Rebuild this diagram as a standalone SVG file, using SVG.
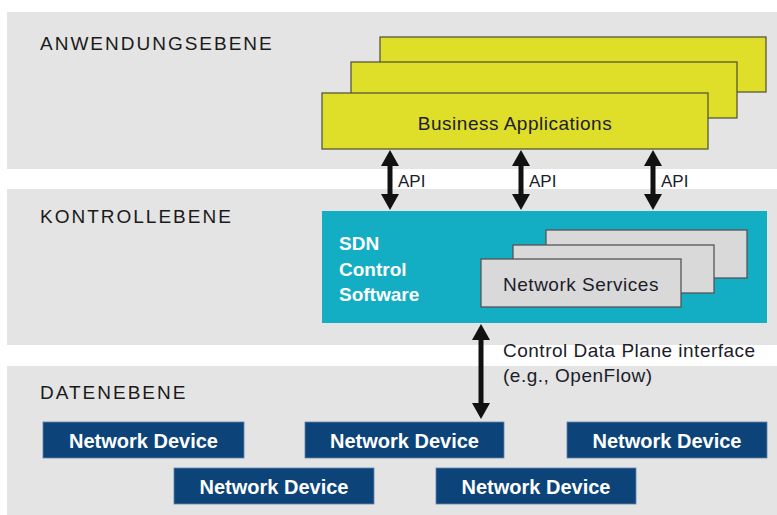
<svg xmlns="http://www.w3.org/2000/svg" width="777" height="515" viewBox="0 0 777 515">
<style>
.band{fill:#e4e4e4}
.title{font-family:"Liberation Sans",Arial,sans-serif;font-size:19px;letter-spacing:2px;fill:#1a1a1a}
.app{fill:#dfdf29;stroke:#4d4d33;stroke-width:1.2}
.svc{fill:#d9d9d9;stroke:#555;stroke-width:1.3}
.dev{fill:#0c4479;stroke:#5f84aa;stroke-width:0.8}
.lbl{font-family:"Liberation Sans",Arial,sans-serif;font-size:19px;letter-spacing:0.5px;fill:#1c1c2a}
.devt{font-family:"Liberation Sans",Arial,sans-serif;font-size:20px;font-weight:bold;fill:#fff;text-anchor:middle}
.sdn{font-family:"Liberation Sans",Arial,sans-serif;font-size:19px;font-weight:bold;fill:#fff}
.api{font-family:"Liberation Sans",Arial,sans-serif;font-size:17px;fill:#1c1c2a}
.conn{stroke:#111;stroke-width:5;fill:none;marker-start:url(#ah);marker-end:url(#ah)}
</style>
<defs>
<marker id="ah" viewBox="0 0 16 18" refX="1" refY="9" markerWidth="16" markerHeight="18" markerUnits="userSpaceOnUse" orient="auto-start-reverse">
<path d="M0,0 L16,9 L0,18 z" fill="#111"/>
</marker>
</defs>
<rect width="777" height="515" fill="#fff"/>
<g id="bands">
<rect class="band" x="7" y="12" width="770" height="157"/>
<rect class="band" x="7" y="189" width="770" height="156"/>
<rect class="band" x="7" y="366" width="770" height="149"/>
<text class="title" x="40" y="50">ANWENDUNGSEBENE</text>
<text class="title" x="40" y="223">KONTROLLEBENE</text>
<text class="title" x="40" y="399">DATENEBENE</text>
</g>
<g id="business-applications">
<rect class="app" x="380" y="37" width="386" height="55"/>
<rect class="app" x="351" y="62" width="386" height="56"/>
<rect class="app" x="322" y="93" width="386" height="56"/>
<text class="lbl" x="515" y="130" text-anchor="middle">Business Applications</text>
</g>
<g id="sdn-control-software">
<rect x="322" y="211" width="445" height="112" fill="#13adc4"/>
<text class="sdn" x="339" y="250">SDN</text>
<text class="sdn" x="339" y="276">Control</text>
<text class="sdn" x="339" y="301">Software</text>
</g>
<g id="network-services">
<rect class="svc" x="546" y="230" width="201" height="48"/>
<rect class="svc" x="513" y="245" width="201" height="48"/>
<rect class="svc" x="481" y="259" width="200" height="48"/>
<text class="lbl" x="581" y="291" text-anchor="middle">Network Services</text>
</g>
<g id="device-1"><rect class="dev" x="43" y="422" width="201" height="36"/><text class="devt" x="143.5" y="448">Network Device</text></g>
<g id="device-2"><rect class="dev" x="305" y="422" width="199" height="36"/><text class="devt" x="404.5" y="448">Network Device</text></g>
<g id="device-3"><rect class="dev" x="567" y="422" width="200" height="36"/><text class="devt" x="667" y="448">Network Device</text></g>
<g id="device-4"><rect class="dev" x="174" y="468" width="200" height="36"/><text class="devt" x="274" y="494">Network Device</text></g>
<g id="device-5"><rect class="dev" x="436" y="468" width="200" height="36"/><text class="devt" x="536" y="494">Network Device</text></g>
<g id="connectors">
<line class="conn" x1="390" y1="165" x2="390" y2="195"/>
<line class="conn" x1="521" y1="165" x2="521" y2="195"/>
<line class="conn" x1="653" y1="165" x2="653" y2="195"/>
<line class="conn" x1="481" y1="339" x2="481" y2="404"/>
<text class="api" x="398" y="187">API</text>
<text class="api" x="529" y="187">API</text>
<text class="api" x="661" y="187">API</text>
<text class="lbl" x="503" y="357">Control Data Plane interface</text>
<text class="lbl" x="503" y="382">(e.g., OpenFlow)</text>
</g>
</svg>
